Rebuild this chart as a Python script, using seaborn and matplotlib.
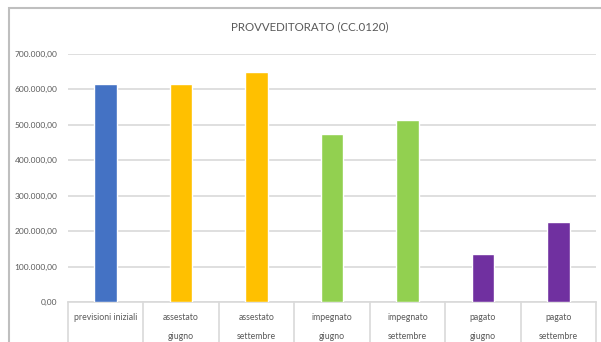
import numpy as np
import pandas as pd

import matplotlib
matplotlib.use('Agg')
import matplotlib.pyplot as plt
from matplotlib.patches import Rectangle
from matplotlib.ticker import FuncFormatter

import seaborn as sns

categories = ['previsioni iniziali', 'assestato\ngiugno', 'assestato\nsettembre',
              'impegnato\ngiugno', 'impegnato\nsettembre', 'pagato\ngiugno', 'pagato\nsettembre']
values = [614000, 615000, 648000, 472000, 514000, 136000, 226000]
colors = ['#4472C4', '#FFC000', '#FFC000', '#92D050', '#92D050', '#7030A0', '#7030A0']
y_ticks = [0, 100000, 200000, 300000, 400000, 500000, 600000, 700000]
title = 'PROVVEDITORATO (CC.0120)'

sns.set_style("white")
plt.rcParams['font.family'] = ['Lato', 'DejaVu Sans']
text_color = '#595959'
grid_color = '#D9D9D9'

df = pd.DataFrame({'cat': categories, 'val': values})

fig = plt.figure(figsize=(6.01, 3.42), dpi=100)
ax = fig.add_axes([68 / 601, 40 / 342, 528 / 601, 248.5 / 342])

sns.barplot(data=df, x='cat', y='val', hue='cat', palette=colors, legend=False,
            width=0.3, saturation=1, ax=ax, zorder=3)

ax.set_ylim(0, 700000)
ax.set_yticks(y_ticks)
ax.yaxis.set_major_formatter(FuncFormatter(
    lambda v, p: '{:,.2f}'.format(v).replace(',', 'X').replace('.', ',').replace('X', '.')))
ax.grid(axis='y', color=grid_color, linewidth=1.2, zorder=0)
ax.set_axisbelow(True)
ax.set_xlabel('')
ax.set_ylabel('')
ax.tick_params(axis='y', length=0, pad=7.5, labelsize=6, labelcolor=text_color)
ax.tick_params(axis='x', length=0, pad=8, labelsize=6.3, labelcolor=text_color)
for lbl in ax.get_xticklabels():
    lbl.set_linespacing(2.4)
    lbl.set_verticalalignment('top')
sns.despine(ax=ax, left=True, right=True, top=True)
ax.spines['bottom'].set_color(grid_color)
ax.spines['bottom'].set_linewidth(1.2)

# table-like separators under the axis
xtr = ax.get_xaxis_transform()
for i in range(len(categories) + 1):
    ax.plot([i - 0.5, i - 0.5], [0, -0.2], color=grid_color, linewidth=1.2,
            transform=xtr, clip_on=False)
ax.set_xlim(-0.5, len(categories) - 0.5)

fig.text(310 / 601, 1 - 27 / 342, title, ha='center', va='center',
         fontsize=8.3, color=text_color)

# chart frame
fig.add_artist(Rectangle((9 / 601, -0.1), 1.0, 1 - 8 / 342 + 0.1, transform=fig.transFigure,
                         fill=False, edgecolor='#BFBFBF', linewidth=1.5))

plt.savefig('out.png', dpi=100)
plt.close()
